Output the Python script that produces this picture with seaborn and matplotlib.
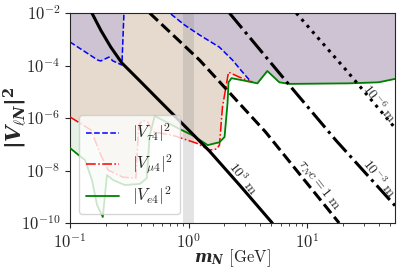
import numpy as np
import pandas as pd
import matplotlib
matplotlib.use("Agg")
import matplotlib.pyplot as plt
import matplotlib.ticker as mticker
import seaborn as sns

# --- mixing bounds (mass in GeV, |V|^2) ---
e_mass = [0.1, 0.115, 0.134, 0.153, 0.169, 0.189, 0.205, 0.23, 0.29, 0.388, 0.444, 0.47,
          0.518, 0.873, 1.08, 1.45, 1.82, 2.01, 2.13, 2.17, 2.30, 2.79, 3.45, 3.80, 4.61,
          5.82, 7.07, 22.5, 40, 55]
e_v2 = [7.2e-8, 4.3e-8, 2.5e-8, 4.4e-9, 4.9e-10, 1.7e-10, 6.7e-9, 4.4e-9, 2.8e-9, 3.1e-9,
        5.1e-9, 2.2e-7, 1.2e-6, 3.5e-7, 2.2e-7, 9.3e-8, 1.2e-7, 1.9e-7, 3.7e-6, 2.3e-5,
        3.3e-5, 2.8e-5, 2.3e-5, 2.1e-5, 6.2e-5, 2.3e-5, 2.0e-5, 2.1e-5, 2.3e-5, 3.1e-5]

mu_mass = [0.1, 0.150, 0.182, 0.209, 0.279, 0.359, 0.38, 0.41, 0.452, 0.498, 0.734, 1.17,
           1.50, 1.72, 1.82, 1.93, 2.17, 2.69, 3.45, 3.80, 4.61, 5.82, 7.07, 22.5, 40, 55]
mu_v2 = [1.1e-6, 3.5e-7, 3.9e-8, 1.05e-8, 5.6e-9, 5.1e-9, 5.4e-7, 8.3e-7, 7.1e-7, 3.0e-7,
         2.2e-7, 1.1e-7, 6.0e-8, 6.6e-8, 9.3e-8, 2.6e-6, 5.6e-5, 3.6e-5, 2.3e-5, 2.1e-5,
         6.2e-5, 2.3e-5, 2.0e-5, 2.1e-5, 2.3e-5, 3.1e-5]

tau_mass = [0.1, 0.172, 0.182, 0.213, 0.230, 0.274, 0.285, 0.29, 0.47, 0.692, 0.925, 1.24,
            1.82, 2.35, 2.85, 3.26, 3.45, 3.80, 4.61, 5.82, 7.07, 22.5, 40, 55]
tau_v2 = [7.9e-4, 1.6e-4, 1.5e-4, 2.1e-4, 1.5e-4, 1.05e-4, 1e-2, 1.0, 4e-2, 1e-2, 3.5e-3,
          1.45e-3, 5.0e-4, 1.6e-4, 5.6e-5, 2.8e-5, 2.3e-5, 2.1e-5, 6.2e-5, 2.3e-5, 2.0e-5,
          2.1e-5, 2.3e-5, 3.1e-5]

# --- lifetime contours tau_N c ---
ct_1e3_mass = [0.153, 0.182, 0.221, 0.274, 0.388, 0.570, 0.962, 1.50, 2.69, 5.08]
ct_1e3_v2 = [1e-2, 2.2e-3, 5.0e-4, 1.25e-4, 2.6e-5, 4.5e-6, 4.2e-7, 5.5e-8, 2.8e-9, 1e-10]
ct_1_mass = [0.47, 1.24, 4.44, 18.6]
ct_1_v2 = [1e-2, 1.6e-4, 3.0e-7, 1e-10]
ct_1em3_mass = [2.21, 7.07, 17.5, 55]
ct_1em3_v2 = [1e-2, 1.8e-5, 1.4e-7, 4.6e-10]
ct_1em6_mass = [8.09, 21.3, 55]
ct_1em6_v2 = [1e-2, 6.7e-5, 4.2e-7]

sns.set_style("ticks")
plt.rcParams['mathtext.fontset'] = 'cm'
plt.rcParams['font.family'] = ['DejaVu Serif']
# "custom" math fonts, only used for the two axis labels
plt.rcParams['mathtext.it'] = 'DejaVu Serif:italic:bold'
plt.rcParams['mathtext.bf'] = 'DejaVu Serif:bold'
plt.rcParams['mathtext.rm'] = 'cmr10'

fig = plt.figure(figsize=(4.07, 2.72), dpi=100)
ax = fig.add_axes([0.172, 0.18, 0.7985, 0.772])
ax.set_xscale('log')
ax.set_yscale('log')

# excluded regions (above each curve)
top = 1e-2
ax.fill_between(mu_mass, mu_v2, top, color='red', alpha=0.1, lw=0, zorder=1)
ax.fill_between(e_mass, e_v2, top, color='green', alpha=0.1, lw=0, zorder=1)
ax.fill_between(tau_mass, tau_v2, top, color='blue', alpha=0.1, lw=0, zorder=1)
ax.axvspan(0.9, 1.1, color='gray', alpha=0.22, lw=0, zorder=1.5)

tau = pd.DataFrame({'m': tau_mass, 'v': tau_v2})
mu = pd.DataFrame({'m': mu_mass, 'v': mu_v2})
el = pd.DataFrame({'m': e_mass, 'v': e_v2})

sns.lineplot(data=tau[tau.m <= 3.45], x='m', y='v', ax=ax, color='blue', linestyle='--',
             lw=1.1, sort=False, estimator=None, label=r'$|V_{\tau 4}|^2$', zorder=2.5)
sns.lineplot(data=mu[mu.m <= 3.45], x='m', y='v', ax=ax, color='red', linestyle='-.',
             lw=1.1, sort=False, estimator=None, label=r'$|V_{\mu 4}|^2$', zorder=2.6)
sns.lineplot(data=el, x='m', y='v', ax=ax, color='green', linestyle='-',
             lw=1.3, sort=False, estimator=None, label=r'$|V_{e 4}|^2$', zorder=2.7)

for xs, ys, ls in [(ct_1e3_mass, ct_1e3_v2, '-'), (ct_1_mass, ct_1_v2, '--'),
                   (ct_1em3_mass, ct_1em3_v2, '-.'), (ct_1em6_mass, ct_1em6_v2, ':')]:
    sns.lineplot(x=xs, y=ys, ax=ax, color='black', linestyle=ls, lw=2.2,
                 sort=False, estimator=None, zorder=3)

for x, y, s in [(2.85, 5.1e-9, r'$10^{3}\ \mathrm{m}$'),
                (12.6, 2.8e-9, r'$\tau_N c = 1\ \mathrm{m}$'),
                (40.3, 5.1e-9, r'$10^{-3}\ \mathrm{m}$'),
                (40.3, 3.7e-6, r'$10^{-6}\ \mathrm{m}$')]:
    ax.text(x, y, s, rotation=-52, fontsize=10, ha='center', va='center', zorder=4)

ax.set_xlim(0.1, 55)
ax.set_ylim(1e-10, 1e-2)
ax.yaxis.set_major_locator(mticker.FixedLocator([1e-10, 1e-8, 1e-6, 1e-4, 1e-2]))
ax.yaxis.set_minor_locator(mticker.NullLocator())
ax.xaxis.set_major_locator(mticker.FixedLocator([0.1, 1, 10]))
ax.xaxis.set_minor_locator(mticker.LogLocator(base=10, subs=np.arange(2, 10)))
fmt = mticker.FuncFormatter(lambda v, _: r'$10^{%d}$' % int(round(np.log10(v))))
ax.xaxis.set_major_formatter(fmt)
ax.yaxis.set_major_formatter(fmt)
ax.xaxis.set_minor_formatter(mticker.NullFormatter())
ax.tick_params(labelsize=12)

ax.set_xlabel(r'$m_N\ \mathrm{[GeV]}$', fontsize=12, math_fontfamily='custom')
ax.xaxis.set_label_coords(0.5, -0.115)
ax.set_ylabel(r'$\mathbf{|}V_{\ell N}\mathbf{|}^{\mathbf{2}}$', fontsize=15,
              math_fontfamily='custom')
ax.yaxis.set_label_coords(-0.125, 0.5)

ax.legend(loc='lower left', bbox_to_anchor=(0.028, 0.043), borderaxespad=0,
          fontsize=12, handlelength=2.0)

fig.savefig('out.png', dpi=100)
